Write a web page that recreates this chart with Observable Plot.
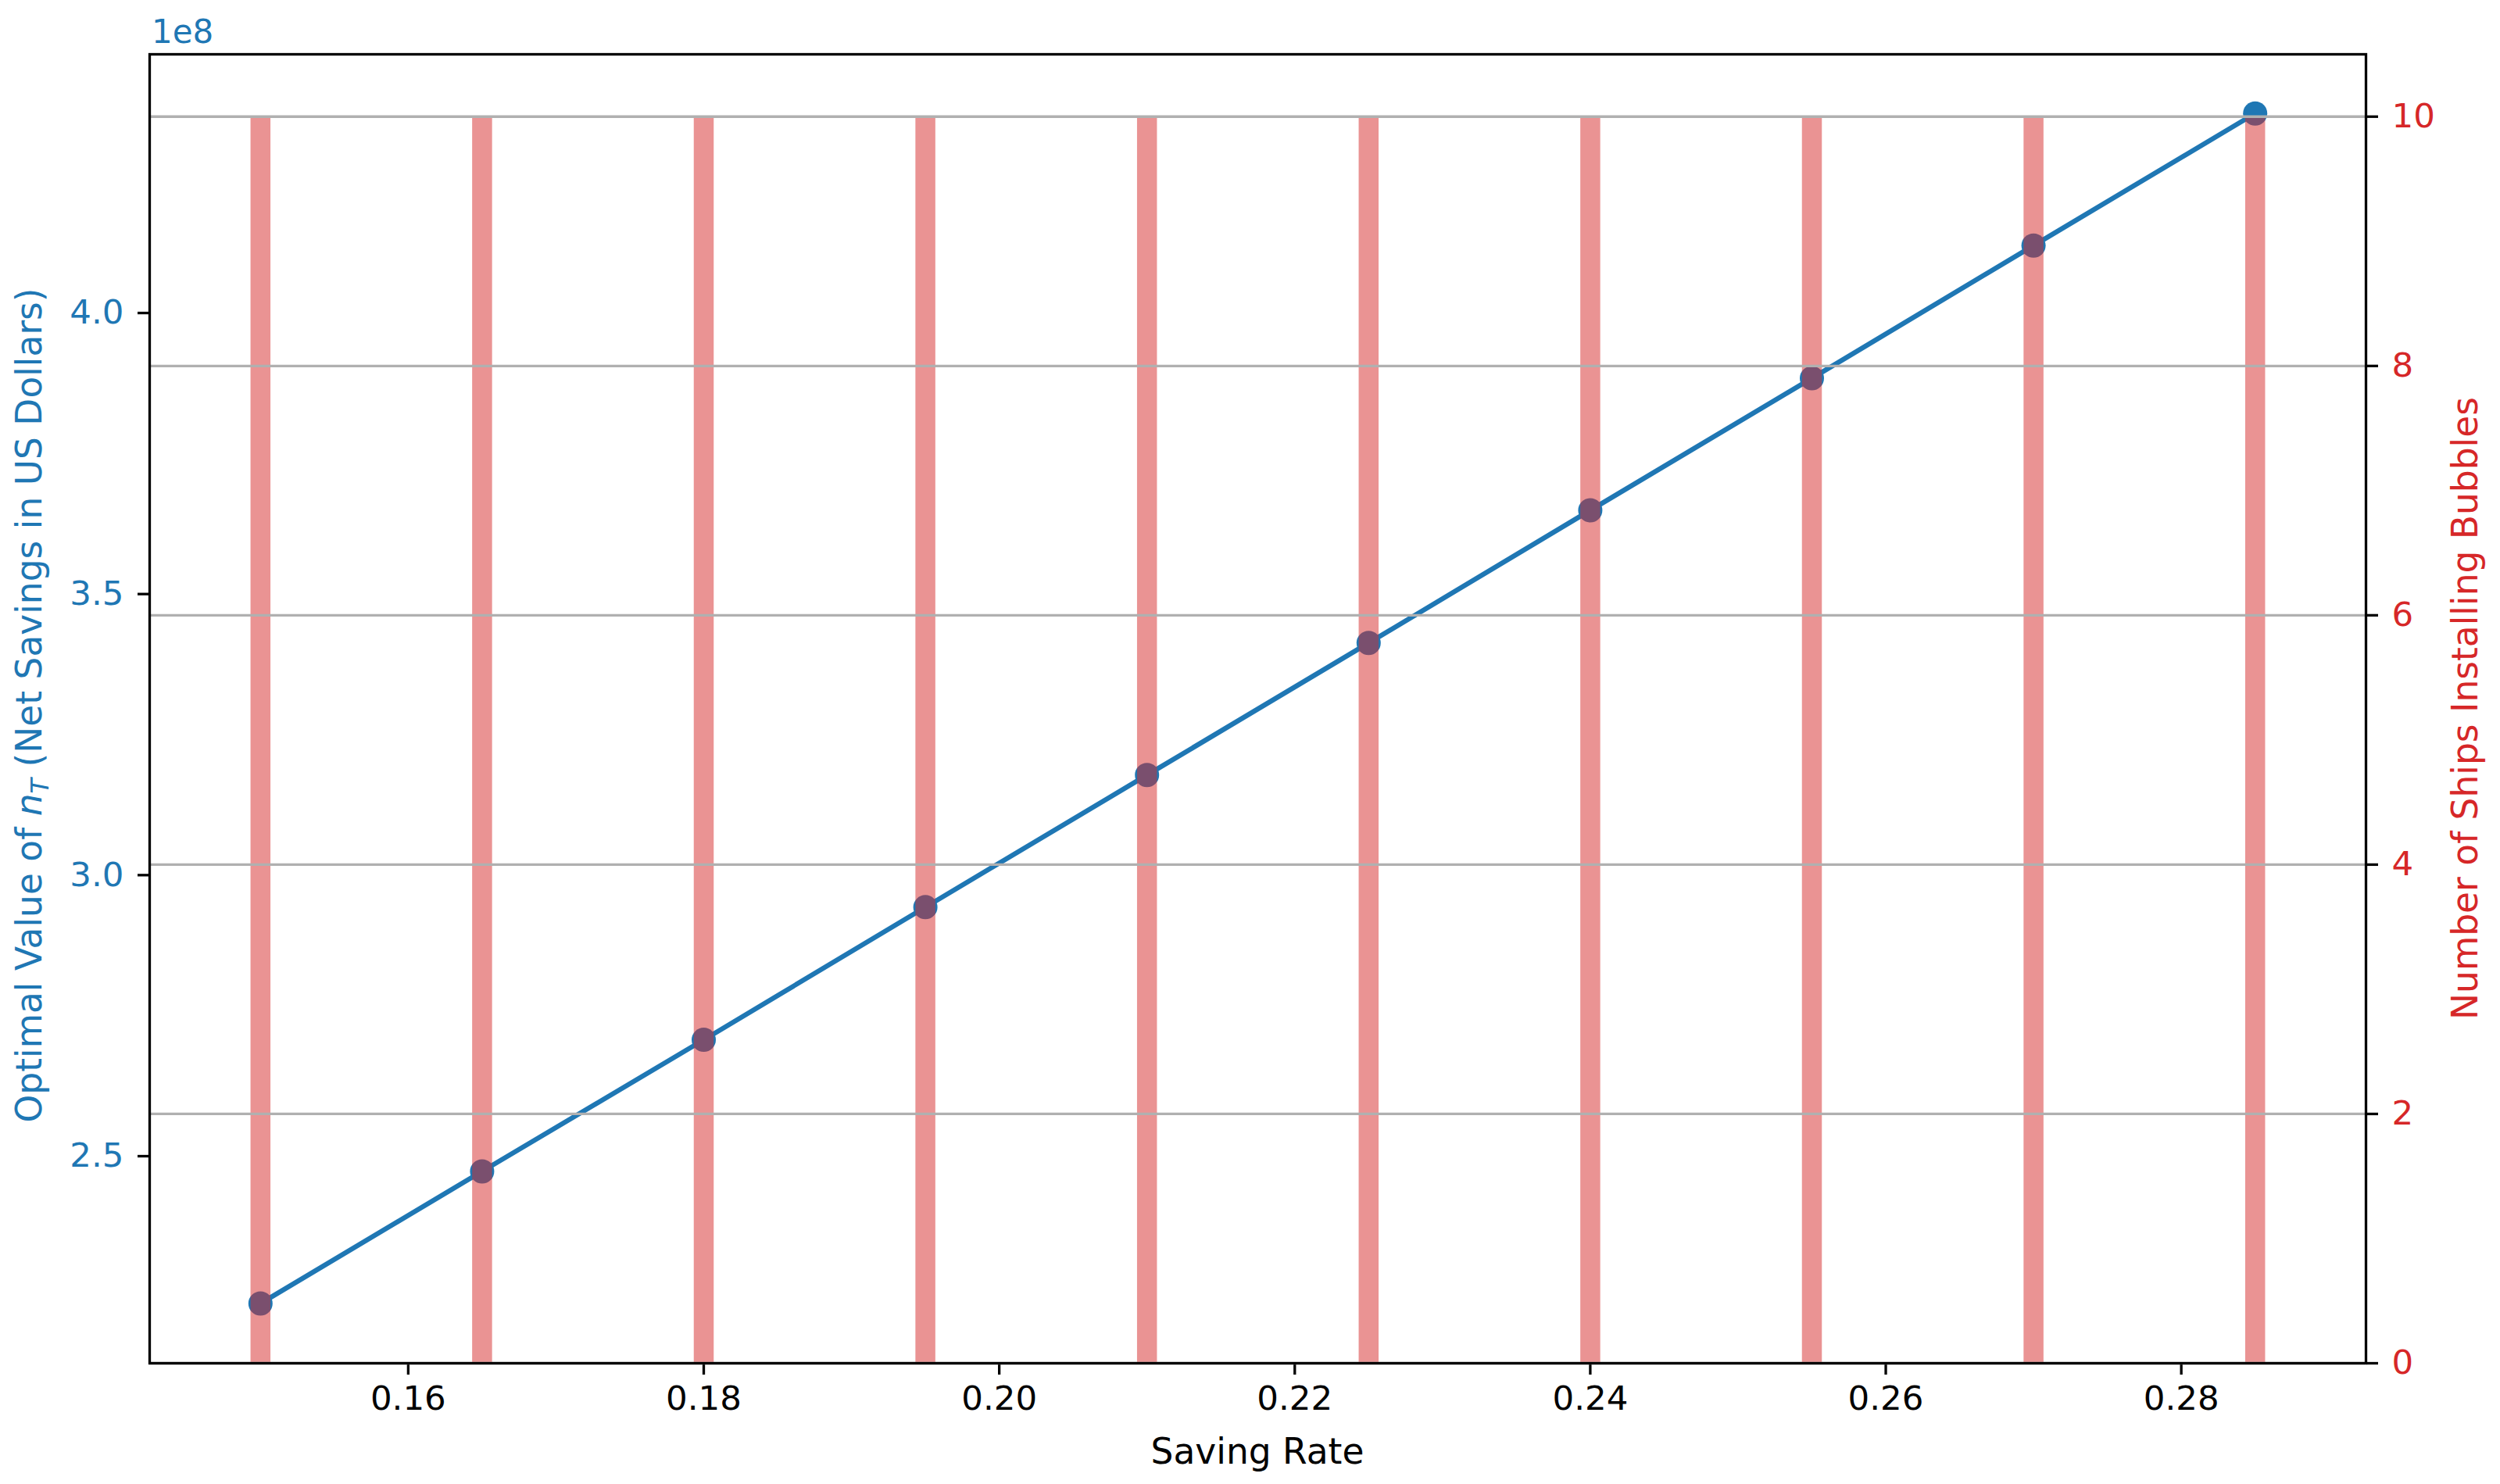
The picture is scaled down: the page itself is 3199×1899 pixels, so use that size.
<!DOCTYPE html>
<html>
<head>
<meta charset="utf-8">
<script src="https://cdn.jsdelivr.net/npm/d3@7"></script>
<script src="https://cdn.jsdelivr.net/npm/@observablehq/plot@0.6"></script>
<style>
  html, body { margin: 0; padding: 0; background: #ffffff; }
  #chart { position: relative; width: 3199px; height: 1899px; }
  #chart svg { position: absolute; left: 0; top: 0; }
</style>
</head>
<body>
<div id="chart"></div>
<script>
// ---- data ----
const savingRates = [0.15, 0.165, 0.18, 0.195, 0.21, 0.225, 0.24, 0.255, 0.27, 0.285];
const netSavings = [2.238e8, 2.473e8, 2.707e8, 2.943e8, 3.178e8, 3.413e8, 3.649e8, 3.884e8, 4.120e8, 4.355e8];
const shipsInstalling = [10, 10, 10, 10, 10, 10, 10, 10, 10, 10];
const xTicks = [0.16, 0.18, 0.20, 0.22, 0.24, 0.26, 0.28];
const leftTicks = [2.5e8, 3.0e8, 3.5e8, 4.0e8];
const rightTicks = [0, 2, 4, 6, 8, 10];
const xLabel = "Saving Rate";
const rightLabel = "Number of Ships Installing Bubbles";
const offsetText = "1e8";

const rows = savingRates.map((r, i) => ({rate: r, value: netSavings[i], ships: shipsInstalling[i]}));

// ---- layout / style ----
const W = 3199, H = 1899;
const M = {marginLeft: 191, marginRight: 172, marginTop: 69, marginBottom: 155};
const FONT = "DejaVu Sans";
const FS = 43.5;     // tick labels
const LFS = 45.5;    // axis labels
const BLUE = "#1f77b4", RED = "#d62728";
const xDomain = [0.1425, 0.2925];

const common = {
  width: W, height: H, ...M,
  style: {fontFamily: FONT, fontSize: FS + "px", background: "transparent", color: "black", overflow: "visible"}
};

// Left axis (line + points)
const p1 = Plot.plot({
  ...common,
  x: {domain: xDomain},
  y: {domain: [2.1316e8, 4.4602e8]},
  marks: [
    Plot.line(rows, {x: "rate", y: "value", stroke: BLUE, strokeWidth: 6.25}),
    Plot.dot(rows, {x: "rate", y: "value", r: 15.5, fill: BLUE, stroke: "none"}),
    Plot.axisX({ticks: xTicks, tickFormat: d => d.toFixed(2), tickSize: 15, tickPadding: 14,
      strokeWidth: 3.3, stroke: "black", fill: "black", fontSize: FS, label: null}),
    Plot.axisY({anchor: "left", ticks: leftTicks, tickFormat: d => (d / 1e8).toFixed(1), tickSize: 15, tickPadding: 18,
      strokeWidth: 3.3, stroke: "black", fill: BLUE, fontSize: FS, label: null})
  ]
});

// Right axis (bars)
const p2 = Plot.plot({
  ...common,
  x: {domain: xDomain, axis: null},
  y: {domain: [0, 10.5]},
  marks: [
    Plot.ruleX(rows, {x: "rate", y1: 0, y2: "ships", stroke: RED, strokeOpacity: 0.5, strokeWidth: 25.5}),
    Plot.gridY({ticks: rightTicks, stroke: "#b0b0b0", strokeOpacity: 1, strokeWidth: 3.3}),
    Plot.frame({stroke: "black", strokeWidth: 3.3}),
    Plot.axisY({anchor: "right", ticks: rightTicks, tickFormat: d => String(d), tickSize: 15, tickPadding: 18,
      strokeWidth: 3.3, stroke: "black", fill: RED, fontSize: FS, label: null})
  ]
});

const chart = document.getElementById("chart");
chart.appendChild(p1);
chart.appendChild(p2);

// ---- labels (real text) ----
const s2 = d3.select(p2);
const cx = (M.marginLeft + (W - M.marginRight)) / 2;
const cy = (M.marginTop + (H - M.marginBottom)) / 2;

s2.append("text")
  .attr("x", cx).attr("y", 1873)
  .attr("text-anchor", "middle")
  .attr("font-family", FONT).attr("font-size", LFS)
  .attr("fill", "black")
  .text(xLabel);

// Left label with math n_T
const lt = s2.append("text")
  .attr("transform", `translate(53,${cy - 4}) rotate(-90)`)
  .attr("text-anchor", "middle")
  .attr("font-family", FONT).attr("font-size", LFS)
  .attr("fill", BLUE);
lt.append("tspan").text("Optimal Value of ");
lt.append("tspan").attr("font-style", "italic").text("n");
lt.append("tspan").attr("font-style", "italic").attr("font-size", LFS * 0.7).attr("dy", LFS * 0.2).text("T");
lt.append("tspan").attr("dy", -LFS * 0.2).text(" (Net Savings in US Dollars)");

s2.append("text")
  .attr("transform", `translate(3170,${cy}) rotate(-90)`)
  .attr("text-anchor", "middle")
  .attr("font-family", FONT).attr("font-size", LFS)
  .attr("fill", RED)
  .text(rightLabel);

s2.append("text")
  .attr("x", 194).attr("y", 55)
  .attr("text-anchor", "start")
  .attr("font-family", FONT).attr("font-size", 42)
  .attr("fill", BLUE)
  .text(offsetText);
</script>
</body>
</html>
